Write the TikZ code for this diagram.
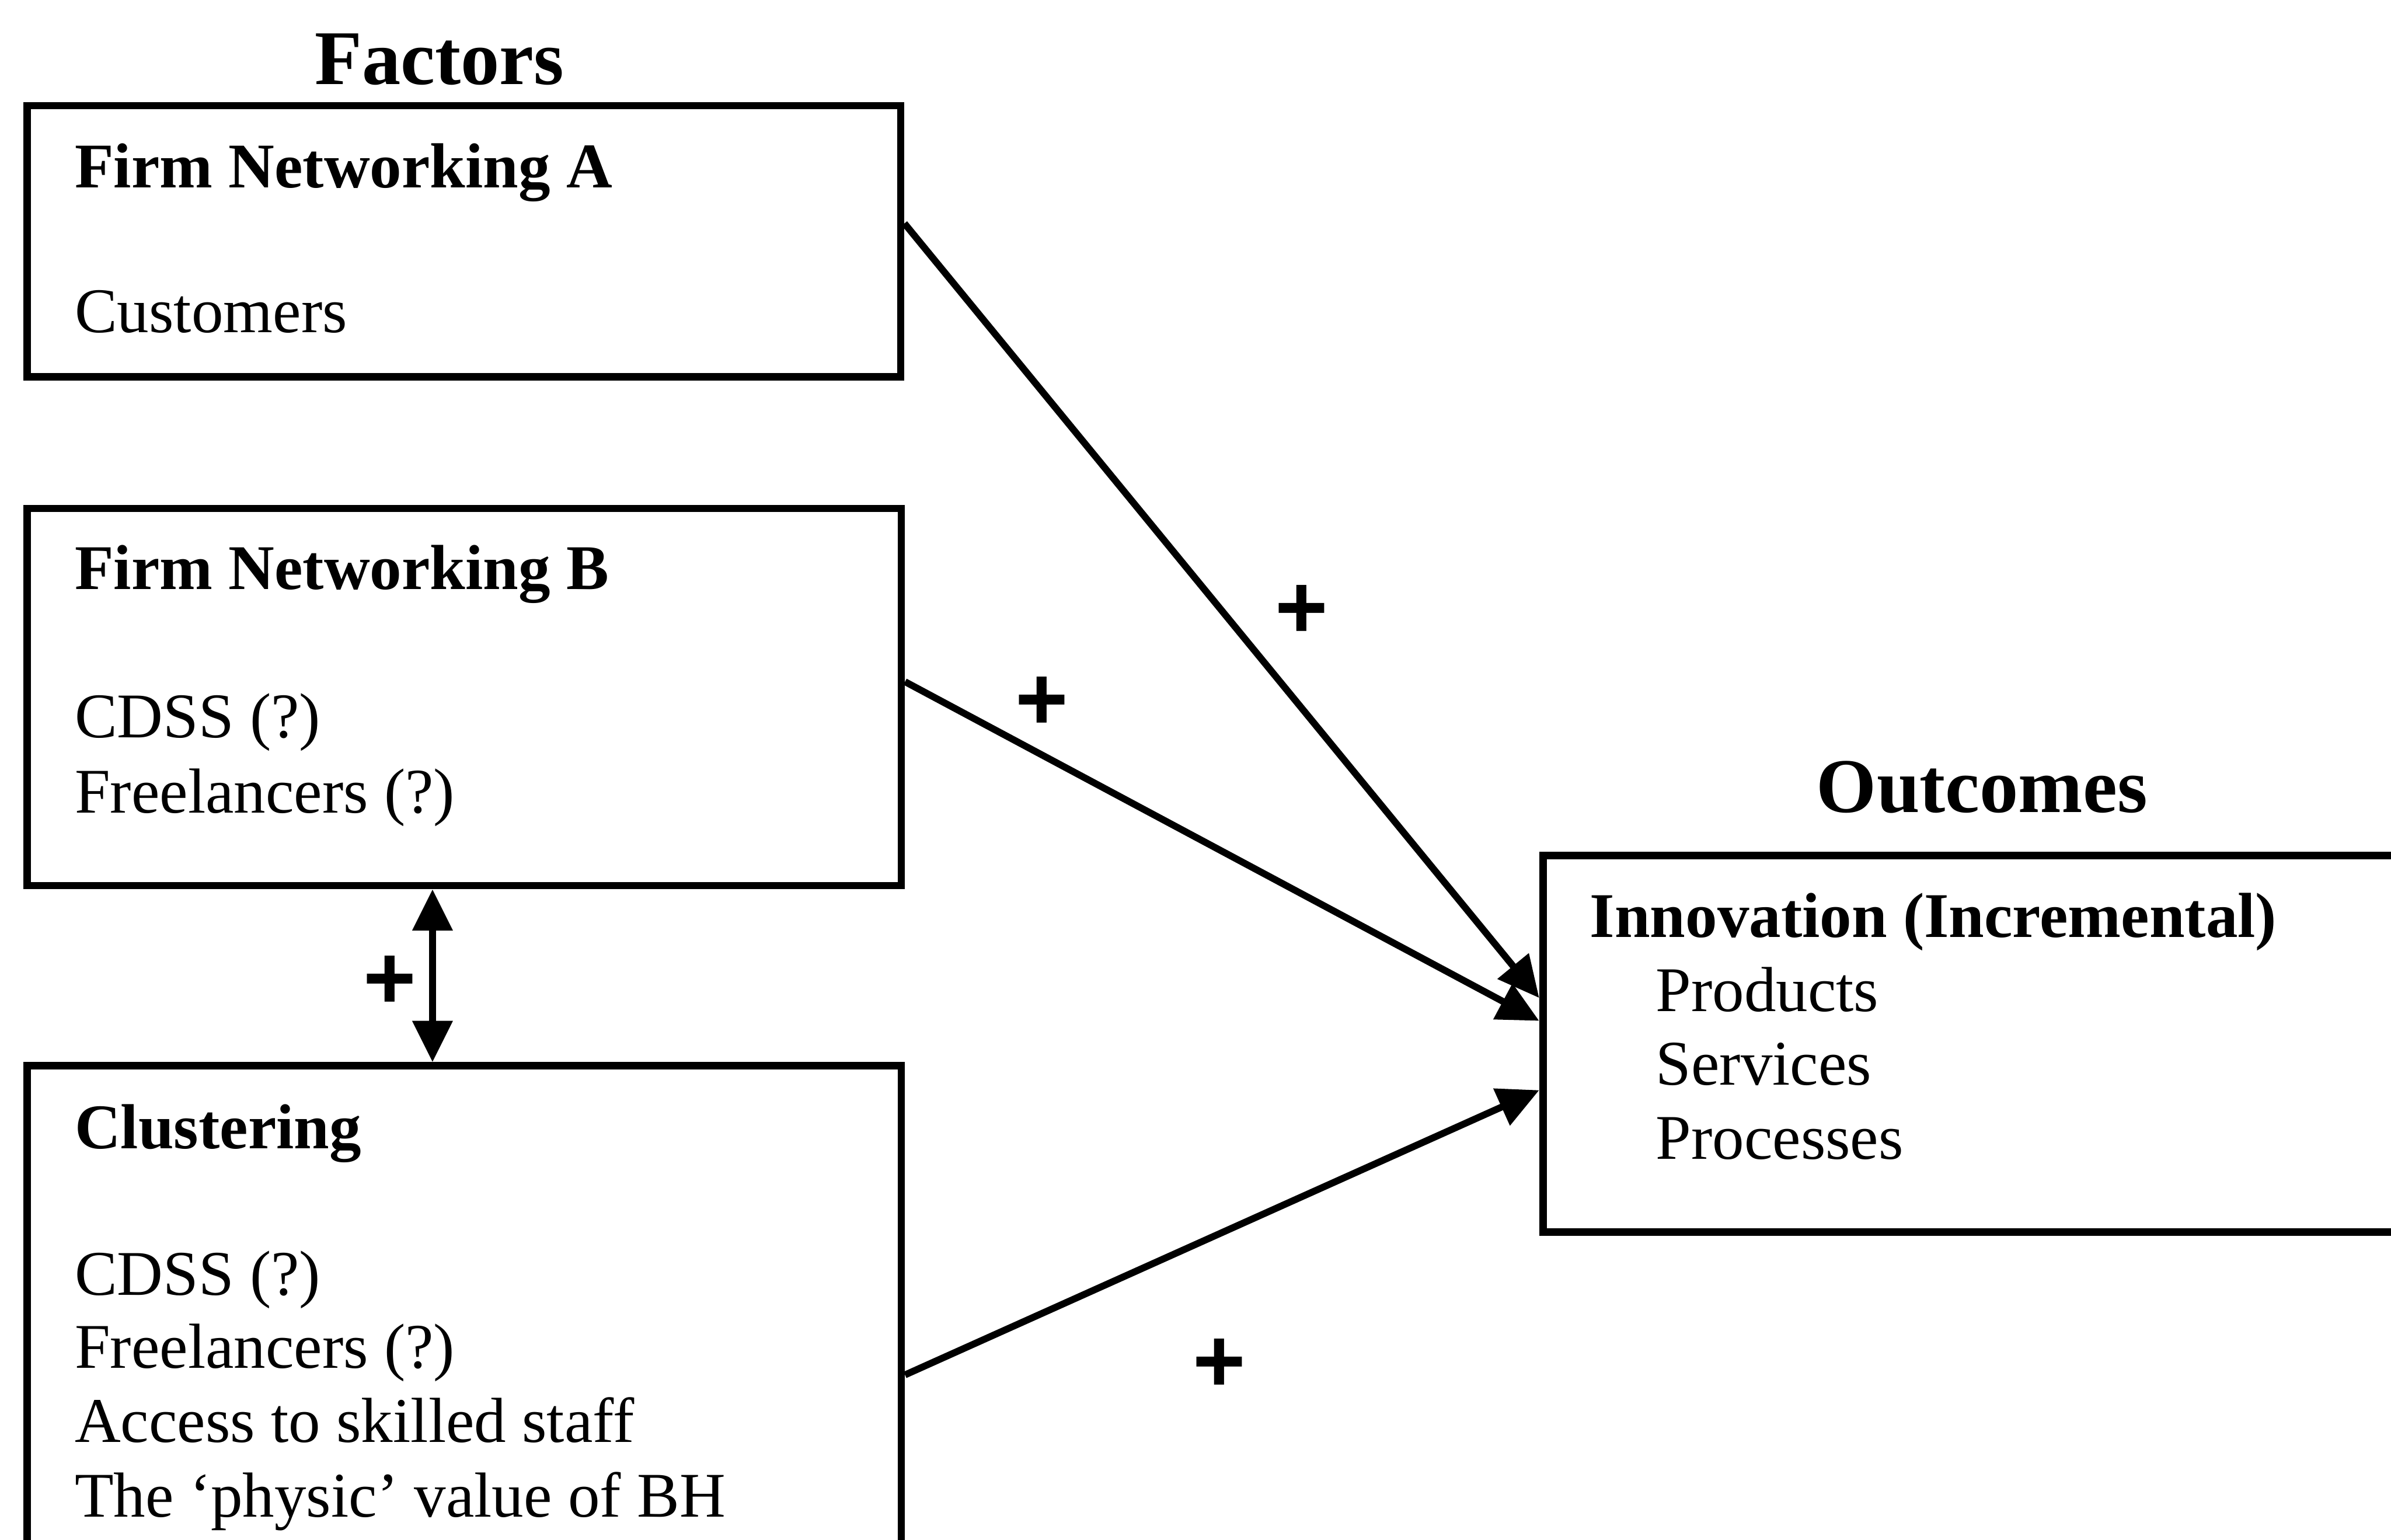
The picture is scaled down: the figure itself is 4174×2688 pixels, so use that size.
\documentclass[tikz,border=0pt]{standalone}
\usepackage{fontspec}
\setmainfont{Liberation Serif}
\newfontfamily\plusfont{Liberation Sans}
\usetikzlibrary{arrows.meta}
\begin{document}
\begin{tikzpicture}[x=0.01cm,y=-0.01cm,
  box/.style={draw, line width=3.7pt, inner sep=0pt, anchor=north west},
  txt/.style={anchor=base west, inner sep=0pt, font=\fontsize{31.6pt}{36pt}\selectfont},
  head/.style={txt, font=\fontsize{31.6pt}{36pt}\selectfont\bfseries},
  title/.style={anchor=base, inner sep=0pt, font=\fontsize{38.4pt}{44pt}\selectfont\bfseries},
  sign/.style={anchor=base, inner sep=0pt, font=\fontsize{45pt}{50pt}\selectfont\plusfont\bfseries},
  arr/.style={line width=3.4pt, -{Triangle[length=0.72cm,width=0.68cm]}},
  dbl/.style={line width=3.4pt, {Triangle[length=0.72cm,width=0.68cm]}-{Triangle[length=0.72cm,width=0.68cm]}}]
\useasboundingbox (0,0) rectangle (4174,2688);
\clip (0,0) rectangle (4174,2688);

% column titles
\node[title] (tf) at (767,147) {Factors};
\node[title] (to) at (3460,1418) {Outcomes};

% factor boxes
\node[box, minimum width=15.24cm, minimum height=4.73cm] (A) at (41,178) {};
\node[box, minimum width=15.25cm, minimum height=6.58cm] (B) at (41,881) {};
\node[box, minimum width=15.25cm, minimum height=10cm] (C) at (41,1854) {};

% outcome box
\node[box, minimum width=20cm, minimum height=6.57cm] (O) at (2687,1487) {};

% box contents
\node[head] (a0) at (130,328) {Firm Networking A};
\node[txt]  (a1) at (130,580) {Customers};

\node[head] (b0) at (130,1029) {Firm Networking B};
\node[txt]  (b1) at (130,1288) {CDSS (?)};
\node[txt]  (b2) at (130,1419) {Freelancers (?)};

\node[head] (c0) at (130,2005) {Clustering};
\node[txt]  (c1) at (130,2261) {CDSS (?)};
\node[txt]  (c2) at (130,2388) {Freelancers (?)};
\node[txt]  (c3) at (130,2518) {Access to skilled staff};
\node[txt]  (c4) at (130,2648) {The `physic' value of BH};

\node[head] (o0) at (2775,1636) {Innovation (Incremental)};
\node[txt]  (o1) at (2890,1765) {Products};
\node[txt]  (o2) at (2890,1894) {Services};
\node[txt]  (o3) at (2890,2023) {Processes};

% links
\draw[arr] (A.east |- 0,390) -- (O.west |- 0,1742);
\draw[arr] (B.east |- 0,1190) -- (O.west |- 0,1782);
\draw[arr] (C.east |- 0,2400) -- (O.west |- 0,1903);
\draw[dbl] (B.south -| 755,0) -- (C.north -| 755,0);

% signs
\node[sign] (s1) at (2272,1114) {+};
\node[sign] (s2) at (1819,1274) {+};
\node[sign] (s3) at (681,1761) {+};
\node[sign] (s4) at (2129,2430) {+};
\end{tikzpicture}
\end{document}
